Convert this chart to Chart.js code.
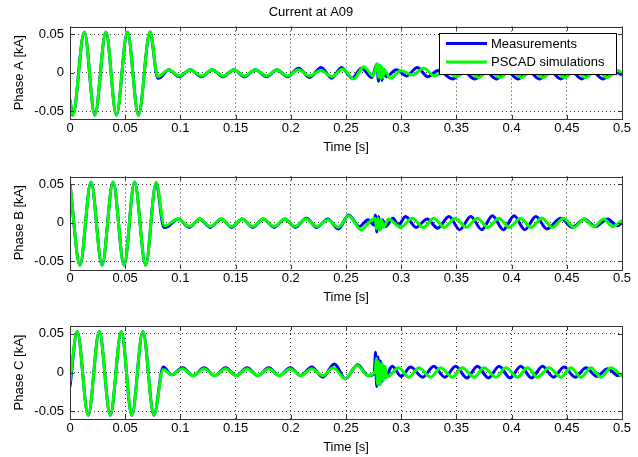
<!DOCTYPE html>
<html>
<head>
<meta charset="utf-8">
<title>Current at A09</title>
<script src="https://cdn.jsdelivr.net/npm/chart.js@4.4.0/dist/chart.umd.min.js"></script>
<style>
  html, body { margin: 0; padding: 0; background: #fff; }
  #page { position: relative; width: 638px; height: 457px; }
  canvas { position: absolute; left: 0; display: block; }
</style>
</head>
<body>
<div id="page">
  <canvas id="phaseA" width="638" height="155" style="top:0px"></canvas>
  <canvas id="phaseB" width="638" height="150" style="top:155px"></canvas>
  <canvas id="phaseC" width="638" height="150" style="top:305px"></canvas>
</div>
<script>
// labels and ticks
const figureTitle = 'Current at A09';
const seriesNames = ['Measurements', 'PSCAD simulations'];
const seriesColors = ['#0000ff', '#00ff00'];
const phaseLabels = ['Phase A [kA]', 'Phase B [kA]', 'Phase C [kA]'];
const timeLabel = 'Time [s]';
const timeTicks = [0, 0.05, 0.1, 0.15, 0.2, 0.25, 0.3, 0.35, 0.4, 0.45, 0.5];
const timeTickLabels = ['0', '0.05', '0.1', '0.15', '0.2', '0.25', '0.3', '0.35', '0.4', '0.45', '0.5'];
const currentTicks = [-0.05, 0, 0.05];
const currentTickLabels = ['-0.05', '0', '0.05'];

const phaseA_meas = [[0,-0.035],[0.0025,-0.055],[0.013,0.053],[0.0225,-0.055],[0.0325,0.053],[0.042,-0.055],[0.052,0.053],[0.062,-0.055],[0.0725,0.053],[0.0795,-0.007],[0.082,-0.006],[0.0895,0.004],[0.099,-0.005],[0.109,0.004],[0.119,-0.005],[0.129,0.004],[0.1385,-0.005],[0.1485,0.004],[0.158,-0.005],[0.168,0.004],[0.178,-0.005],[0.1875,0.004],[0.197,-0.005],[0.207,0.006],[0.217,-0.006],[0.2275,0.007],[0.237,-0.007],[0.246,0.007],[0.2555,-0.007],[0.264,0.006],[0.2735,-0.006],[0.278,0.011],[0.2795,-0.011],[0.281,0.009],[0.2825,-0.010],[0.2845,0.004],[0.2865,-0.005],[0.2955,0.004],[0.305,-0.004],[0.3145,0.007],[0.324,-0.005],[0.3335,0.003],[0.3465,-0.008],[0.3565,0.002],[0.3665,-0.008],[0.3765,0.002],[0.386,-0.008],[0.396,0.002],[0.4055,-0.008],[0.4155,0.002],[0.425,-0.008],[0.435,0.002],[0.4445,-0.008],[0.454,0.002],[0.4635,-0.008],[0.473,0.002],[0.4825,-0.008],[0.4925,0.002],[0.5,-0.003]];
const phaseA_sim = [[0,-0.035],[0.0025,-0.055],[0.013,0.053],[0.0225,-0.055],[0.0325,0.053],[0.042,-0.055],[0.052,0.053],[0.062,-0.055],[0.0725,0.053],[0.0795,-0.005],[0.0895,0.004],[0.099,-0.004],[0.109,0.004],[0.119,-0.004],[0.129,0.004],[0.1385,-0.004],[0.1485,0.004],[0.158,-0.004],[0.168,0.004],[0.178,-0.004],[0.1875,0.004],[0.197,-0.004],[0.207,0.004],[0.217,-0.004],[0.227,0.003],[0.2375,-0.005],[0.247,0.005],[0.257,-0.008],[0.266,0.008],[0.2745,-0.004],[0.2785,0.012],[0.2795,-0.006],[0.2805,0.010],[0.2815,-0.008],[0.2825,0.008],[0.2835,-0.006],[0.2845,0.004],[0.290,-0.007],[0.300,0.003],[0.310,-0.003],[0.3205,0.006],[0.330,-0.004],[0.340,0.003],[0.350,-0.005],[0.3595,0.003],[0.370,-0.006],[0.3795,0.003],[0.3895,-0.006],[0.399,0.003],[0.409,-0.006],[0.4185,0.003],[0.4285,-0.006],[0.438,0.003],[0.448,-0.006],[0.4575,0.003],[0.467,-0.006],[0.4765,0.003],[0.4865,-0.006],[0.4965,0.003],[0.5,-0.001]];

const phaseB_meas = [[0,0.050],[0.009,-0.055],[0.019,0.053],[0.029,-0.055],[0.039,0.053],[0.049,-0.055],[0.0585,0.053],[0.0685,-0.055],[0.078,0.052],[0.085,-0.006],[0.0885,-0.005],[0.098,0.005],[0.108,-0.006],[0.1175,0.005],[0.127,-0.006],[0.137,0.005],[0.1465,-0.006],[0.156,0.005],[0.1655,-0.006],[0.175,0.005],[0.185,-0.006],[0.1945,0.005],[0.204,-0.006],[0.214,0.006],[0.2235,-0.006],[0.2335,0.005],[0.243,-0.008],[0.2525,0.010],[0.262,-0.005],[0.270,0.004],[0.2755,-0.003],[0.2765,0.010],[0.278,-0.012],[0.2795,0.008],[0.281,-0.008],[0.283,0.004],[0.286,-0.005],[0.2925,0.006],[0.2975,-0.003],[0.304,0.008],[0.3135,-0.006],[0.3235,0.005],[0.333,-0.007],[0.3433,0.008],[0.353,-0.009],[0.363,0.008],[0.373,-0.009],[0.3826,0.009],[0.3925,-0.009],[0.4023,0.009],[0.412,-0.009],[0.422,0.008],[0.432,-0.008],[0.4446,0.006],[0.455,-0.006],[0.4658,0.005],[0.476,-0.005],[0.487,0.005],[0.4955,-0.004],[0.5,0.0]];
const phaseB_sim = [[0,0.050],[0.009,-0.055],[0.019,0.053],[0.029,-0.055],[0.039,0.053],[0.049,-0.055],[0.0585,0.053],[0.0685,-0.055],[0.078,0.052],[0.0855,-0.004],[0.098,0.005],[0.108,-0.005],[0.1175,0.005],[0.127,-0.005],[0.137,0.005],[0.1465,-0.005],[0.156,0.005],[0.1655,-0.005],[0.175,0.005],[0.185,-0.005],[0.1945,0.005],[0.204,-0.005],[0.2135,0.005],[0.2235,-0.005],[0.2335,0.004],[0.243,-0.006],[0.2525,0.009],[0.2635,-0.009],[0.272,0.002],[0.2765,0.006],[0.2775,-0.008],[0.279,0.006],[0.2805,-0.010],[0.282,0.004],[0.284,-0.006],[0.2885,0.005],[0.2995,-0.006],[0.310,0.006],[0.320,-0.006],[0.3295,0.006],[0.339,-0.006],[0.349,0.006],[0.359,-0.006],[0.369,0.006],[0.3785,-0.006],[0.3885,0.006],[0.398,-0.006],[0.408,0.006],[0.4175,-0.006],[0.4275,0.006],[0.437,-0.006],[0.447,0.006],[0.4565,-0.006],[0.4655,0.005],[0.4745,-0.005],[0.4835,0.005],[0.4915,-0.005],[0.5,0.003]];

const phaseC_meas = [[0,-0.018],[0.0065,0.053],[0.0165,-0.055],[0.0265,0.053],[0.0365,-0.055],[0.0465,0.053],[0.056,-0.055],[0.066,0.053],[0.076,-0.055],[0.0845,0.007],[0.092,-0.003],[0.102,0.006],[0.1115,-0.004],[0.1215,0.006],[0.131,-0.004],[0.141,0.006],[0.1505,-0.004],[0.1605,0.006],[0.170,-0.004],[0.180,0.006],[0.1895,-0.004],[0.1995,0.006],[0.209,-0.004],[0.219,0.007],[0.229,-0.006],[0.2395,0.011],[0.2495,-0.008],[0.2605,0.010],[0.270,-0.004],[0.2755,-0.002],[0.2768,0.026],[0.2778,-0.018],[0.279,0.020],[0.280,-0.015],[0.2812,0.015],[0.2825,-0.012],[0.284,0.008],[0.2855,-0.006],[0.2918,0.008],[0.300,-0.005],[0.3085,0.007],[0.3195,-0.006],[0.3295,0.008],[0.3395,-0.006],[0.3493,0.008],[0.3595,-0.007],[0.369,0.008],[0.379,-0.007],[0.3887,0.008],[0.3985,-0.007],[0.4083,0.008],[0.418,-0.007],[0.428,0.008],[0.438,-0.006],[0.4475,0.007],[0.4575,-0.006],[0.4675,0.006],[0.477,-0.005],[0.487,0.005],[0.4965,-0.004],[0.5,-0.002]];
const phaseC_sim = [[0,-0.012],[0.0065,0.053],[0.0165,-0.055],[0.0265,0.053],[0.0365,-0.055],[0.0465,0.053],[0.056,-0.055],[0.066,0.053],[0.076,-0.055],[0.0845,0.004],[0.092,-0.003],[0.102,0.005],[0.1115,-0.004],[0.1215,0.005],[0.131,-0.004],[0.141,0.005],[0.1505,-0.004],[0.1605,0.005],[0.170,-0.004],[0.180,0.005],[0.1895,-0.004],[0.1995,0.005],[0.209,-0.004],[0.219,0.005],[0.229,-0.004],[0.2385,0.006],[0.2495,-0.008],[0.260,0.009],[0.270,-0.004],[0.2765,0.002],[0.2775,0.018],[0.2785,-0.015],[0.2795,0.014],[0.281,-0.016],[0.2825,0.012],[0.284,-0.010],[0.2855,0.008],[0.287,-0.006],[0.2975,0.006],[0.307,-0.006],[0.316,0.006],[0.3267,-0.006],[0.3357,0.006],[0.3463,-0.006],[0.3554,0.006],[0.366,-0.006],[0.3751,0.006],[0.3857,-0.006],[0.3947,0.006],[0.4053,-0.006],[0.4144,0.006],[0.4235,-0.006],[0.434,0.006],[0.4446,-0.006],[0.4537,0.006],[0.4628,-0.006],[0.4719,0.006],[0.481,-0.006],[0.490,0.006],[0.5,-0.005]];

Chart.defaults.font.family = '"Liberation Sans", Arial, Helvetica, sans-serif';
Chart.defaults.font.size = 13;
Chart.defaults.color = '#000';

// matlab style box with inward tick marks
const axesBox = {
  id: 'axesBox',
  afterDatasetsDraw(chart) {
    const { ctx, chartArea: a, scales } = chart;
    const tl = 4;
    ctx.save();
    ctx.strokeStyle = '#333';
    ctx.lineWidth = 1;
    ctx.beginPath();
    timeTicks.forEach(v => {
      const px = Math.round(scales.x.getPixelForValue(v)) + 0.5;
      ctx.moveTo(px, a.bottom); ctx.lineTo(px, a.bottom - tl);
      ctx.moveTo(px, a.top); ctx.lineTo(px, a.top + tl);
    });
    currentTicks.forEach(v => {
      const py = Math.round(scales.y.getPixelForValue(v)) + 0.5;
      ctx.moveTo(a.left, py); ctx.lineTo(a.left + tl, py);
      ctx.moveTo(a.right, py); ctx.lineTo(a.right - tl, py);
    });
    ctx.stroke();
    ctx.strokeRect(Math.round(a.left) + 0.5, Math.round(a.top) + 0.5,
      Math.round(a.right - a.left), Math.round(a.bottom - a.top));
    ctx.restore();
  }
};

// boxed legend inside the first axes, top right
const boxLegend = {
  id: 'boxLegend',
  afterDatasetsDraw(chart, args, opts) {
    if (!opts.show) return;
    const { ctx, chartArea } = chart;
    const w = 177, h = 41;
    const x = Math.round(chartArea.right - 6 - w);
    const y = Math.round(chartArea.top + 6);
    ctx.save();
    ctx.fillStyle = '#fff';
    ctx.fillRect(x, y, w, h);
    ctx.strokeStyle = '#000';
    ctx.lineWidth = 1;
    ctx.strokeRect(x + 0.5, y + 0.5, w, h);
    ctx.font = '13px "Liberation Sans", Arial, sans-serif';
    ctx.textBaseline = 'middle';
    chart.data.datasets.forEach((ds, i) => {
      const ly = y + 10.5 + i * 18.5;
      ctx.strokeStyle = ds.borderColor;
      ctx.lineWidth = 3;
      ctx.beginPath();
      ctx.moveTo(x + 7, ly);
      ctx.lineTo(x + 48, ly);
      ctx.stroke();
      ctx.fillStyle = '#000';
      ctx.fillText(ds.label, x + 52, ly + 0.5);
    });
    ctx.restore();
  }
};

function makePhaseChart(canvasId, meas, sim, yLabel, topPad, withTitle) {
  const ctx = document.getElementById(canvasId).getContext('2d');
  return new Chart(ctx, {
    type: 'line',
    data: {
      datasets: [
        {
          label: seriesNames[0],
          data: meas,
          borderColor: seriesColors[0],
          backgroundColor: seriesColors[0],
          borderWidth: 3,
          pointRadius: 0,
          cubicInterpolationMode: 'monotone',
          fill: false,
          order: 2
        },
        {
          label: seriesNames[1],
          data: sim,
          borderColor: seriesColors[1],
          backgroundColor: seriesColors[1],
          borderWidth: 3,
          pointRadius: 0,
          cubicInterpolationMode: 'monotone',
          fill: false,
          order: 1
        }
      ]
    },
    options: {
      responsive: false,
      animation: false,
      events: [],
      layout: { padding: { top: topPad, right: 16, bottom: 0, left: 0 } },
      plugins: {
        legend: { display: false },
        tooltip: { enabled: false },
        title: {
          display: withTitle,
          text: figureTitle,
          color: '#000',
          font: { size: 13, weight: 'normal' },
          padding: { top: 5, bottom: 6 }
        },
        boxLegend: { show: withTitle }
      },
      scales: {
        x: {
          type: 'linear',
          min: 0,
          max: 0.5,
          afterBuildTicks: s => { s.ticks = timeTicks.map(v => ({ value: v })); },
          afterFit: s => { s.height = 36; },
          ticks: {
            autoSkip: false,
            maxRotation: 0,
            padding: 2,
            callback: (v, i) => timeTickLabels[i]
          },
          grid: { color: 'rgba(0,0,0,0.8)', lineWidth: 1, drawTicks: false },
          border: { display: false, dash: [1, 3] },
          title: { display: true, text: timeLabel, padding: { top: 0, bottom: 0 } }
        },
        y: {
          type: 'linear',
          min: -0.06,
          max: 0.06,
          afterBuildTicks: s => { s.ticks = currentTicks.map(v => ({ value: v })); },
          afterFit: s => { s.width = 70; },
          ticks: {
            padding: 6,
            callback: (v, i) => currentTickLabels[i]
          },
          grid: { color: 'rgba(0,0,0,0.8)', lineWidth: 1, drawTicks: false },
          border: { display: false, dash: [1, 3] },
          title: { display: true, text: yLabel, padding: { top: 12, bottom: 0 } }
        }
      }
    },
    plugins: [axesBox, boxLegend]
  });
}

makePhaseChart('phaseA', phaseA_meas, phaseA_sim, phaseLabels[0], 0, true);
makePhaseChart('phaseB', phaseB_meas, phaseB_sim, phaseLabels[1], 21.5, false);
makePhaseChart('phaseC', phaseC_meas, phaseC_sim, phaseLabels[2], 21, false);
</script>
</body>
</html>
